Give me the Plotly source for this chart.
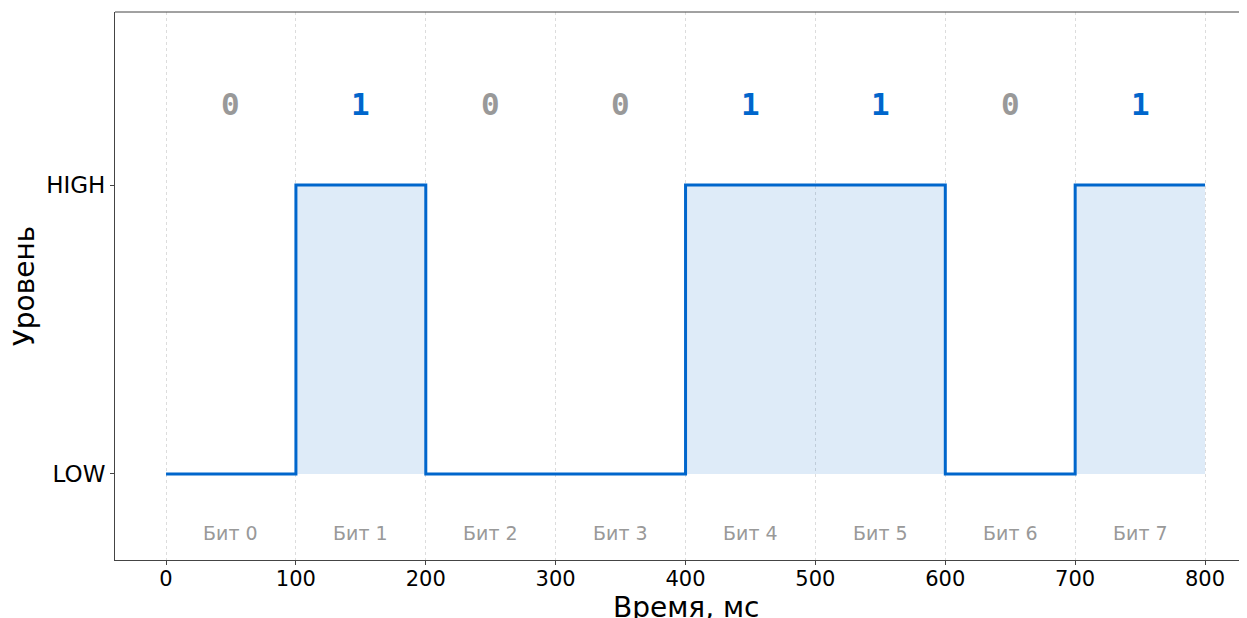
import plotly.graph_objects as go

bits = [0, 1, 0, 0, 1, 1, 0, 1]
bit_duration = 100
bit_names = ["Бит 0", "Бит 1", "Бит 2", "Бит 3", "Бит 4", "Бит 5", "Бит 6", "Бит 7"]
x_ticks = [0, 100, 200, 300, 400, 500, 600, 700, 800]
y_ticks = [0, 1]
y_tick_labels = ["LOW", "HIGH"]

BLUE = "#0066CC"
GRAY = "#999999"

xs = [i * bit_duration for i in range(len(bits) + 1)]
ys = bits + [bits[-1]]

fig = go.Figure()
fig.add_trace(go.Scatter(
    x=xs, y=ys, mode="lines", line=dict(color=BLUE, width=3, shape="hv"),
    fill="tozeroy", fillcolor="rgba(0,102,204,0.13)", hoverinfo="skip", showlegend=False,
))

for i, b in enumerate(bits):
    cx = i * bit_duration + bit_duration / 2
    fig.add_annotation(x=cx, y=1.28, text=f"<b>{b}</b>", showarrow=False,
                       font=dict(family="DejaVu Sans Mono", size=31, color=BLUE if b else GRAY))
    fig.add_annotation(x=cx, y=-0.205, text=bit_names[i], showarrow=False,
                       font=dict(family="DejaVu Sans", size=19, color=GRAY))

# x-axis title (slightly cut by the bottom edge as in the reference)
fig.add_annotation(xref="paper", yref="paper", x=0.5, y=0, xshift=5, yshift=-47,
                   yanchor="middle", text="Время, мс", showarrow=False,
                   font=dict(family="DejaVu Sans", size=28, color="black"))

# top spine (plot extends to window edge)
fig.add_shape(type="line", xref="paper", yref="paper", x0=0, x1=1.02, y0=1, y1=1,
              line=dict(color="#444", width=1))

fig.update_layout(
    width=1239, height=610,
    margin=dict(l=107, r=0, t=4, b=58),
    plot_bgcolor="white", paper_bgcolor="white",
    font=dict(family="DejaVu Sans", color="black"),
    xaxis=dict(range=[-39.3, 832.3], tickvals=x_ticks, showgrid=True, gridcolor="#dcdcdc",
               griddash="dot", gridwidth=1, showline=True, linecolor="#444", linewidth=1,
               ticks="outside", ticklen=4, tickcolor="#444", tickfont=dict(size=21),
               zeroline=False, ticklabelstandoff=-4),
    yaxis=dict(range=[-0.298, 1.599], tickvals=y_ticks, ticktext=y_tick_labels, showgrid=False,
               showline=True, linecolor="#444", linewidth=1, ticks="outside", ticklen=4,
               tickcolor="#444", tickfont=dict(size=23), zeroline=False,
               title=dict(text="Уровень", font=dict(size=28), standoff=14)),
)

fig.write_html("out.html")
